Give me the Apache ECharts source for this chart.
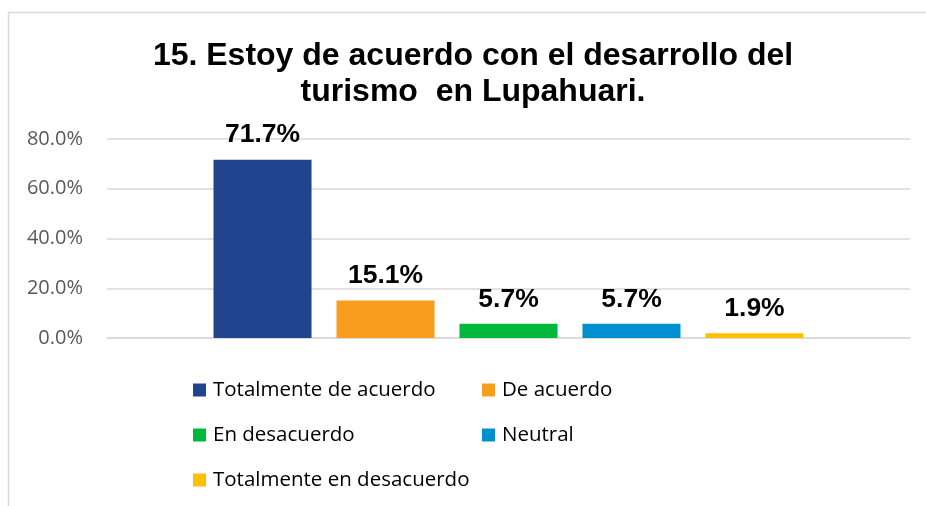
<!DOCTYPE html>
<html><head><meta charset="utf-8">
<script src="https://cdn.jsdelivr.net/npm/echarts@6/dist/echarts.min.js"></script>
<style>html,body{margin:0;padding:0;background:#fff}#c{width:926px;height:506px}</style>
</head><body><div id="c"></div>
<script>
const categories = ['Respuesta'];
const seriesNames = ['Totalmente de acuerdo','De acuerdo','En desacuerdo','Neutral','Totalmente en desacuerdo'];
const seriesValues = [71.7, 15.1, 5.7, 5.7, 1.9];
const seriesColors = ['#21448F','#F89D1E','#00B83C','#0090CF','#FFC000'];
const yTicks = [0, 20, 40, 60, 80];

const chart = echarts.init(document.getElementById('c'));
const series = seriesNames.map((n, i) => ({
  name: n, type: 'bar', data: [seriesValues[i]],
  barWidth: 98, barGap: '25.5%',
  itemStyle: {color: seriesColors[i]},
  label: {show: true, position: 'top', distance: 11, formatter: p => p.value.toFixed(1) + '%',
    fontFamily: 'Liberation Sans', fontWeight: 'bold', fontSize: 26.5, color: '#000'}
}));
const legendText = {fontFamily: 'Open Sans', fontSize: 20.5, lineHeight: 22, color: '#000', padding: [0,0,0,2]};
chart.setOption({
  animation: false,
  graphic: [{type: 'rect', shape: {x: 8.5, y: 12.5, width: 1000, height: 600},
    style: {fill: 'none', stroke: '#D9D9D9', lineWidth: 1.5}}],
  title: {text: '15. Estoy de acuerdo con el desarrollo del\nturismo  en Lupahuari.', left: 468, textAlign: 'center', top: 33,
    textStyle: {fontFamily: 'Liberation Sans', fontWeight: 'bold', fontSize: 32, lineHeight: 36, color: '#000'}},
  grid: {left: 107, right: 16, top: 139, bottom: 168, containLabel: false},
  xAxis: {type: 'category', data: categories, axisLine: {lineStyle: {color: '#D9D9D9', width: 1.5}}, axisTick: {show: false}, axisLabel: {show: false}},
  yAxis: {type: 'value', min: yTicks[0], max: yTicks[yTicks.length-1], interval: 20,
    axisLabel: {formatter: v => v.toFixed(1) + '%', fontFamily: 'Open Sans', fontSize: 20, color: '#595959', margin: 24},
    splitLine: {lineStyle: {color: '#D9D9D9', width: 1.5}}},
  legend: [
    {data: [seriesNames[0], seriesNames[2], seriesNames[4]], orient: 'vertical', left: 193, top: 379, height: 200, padding: 0,
      itemWidth: 13, itemHeight: 13, itemGap: 23, icon: 'rect', textStyle: legendText},
    {data: [seriesNames[1], seriesNames[3]], orient: 'vertical', left: 482, top: 379, height: 200, padding: 0,
      itemWidth: 13, itemHeight: 13, itemGap: 23, icon: 'rect', textStyle: legendText}
  ],
  series: series
});
</script></body></html>
